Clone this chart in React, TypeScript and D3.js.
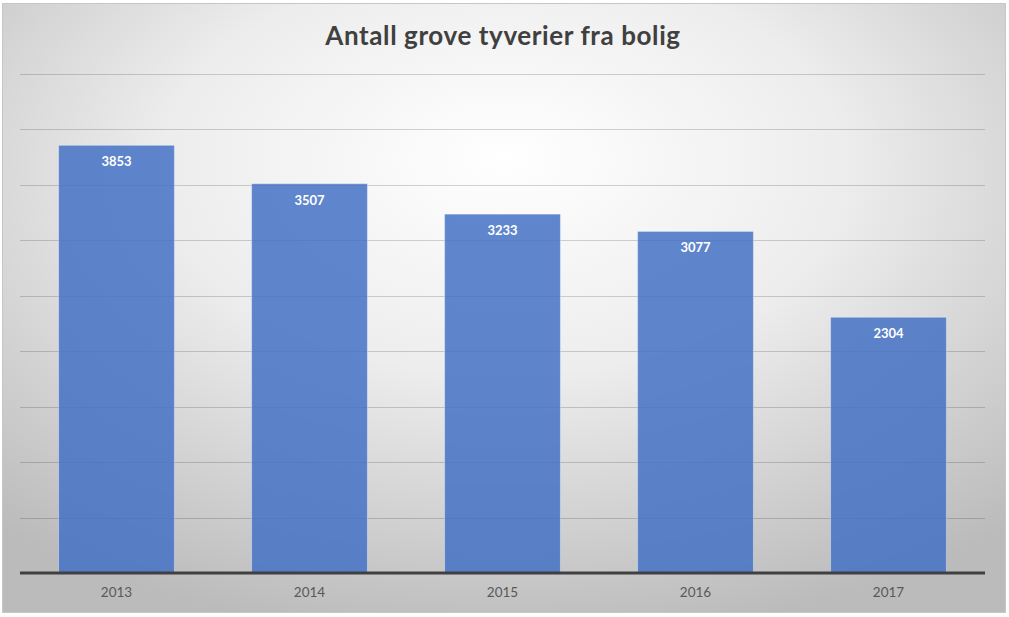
import React from "react";
import * as d3 from "d3";

const categories = ["2013", "2014", "2015", "2016", "2017"];
const values = [3853, 3507, 3233, 3077, 2304];
const gridTicks = [500, 1000, 1500, 2000, 2500, 3000, 3500, 4000, 4500];
const title = "Antall grove tyverier fra bolig";

export default function App() {
  const W = 1009, H = 617;
  const plotLeft = 20, plotRight = 985, plotTop = 73.5, plotBottom = 573;
  const x = d3.scaleBand<string>().domain(categories).range([plotLeft, plotRight]).paddingInner(0.4).paddingOuter(0.2);
  const y = d3.scaleLinear().domain([0, 4500]).range([plotBottom, plotTop]);
  const font = "Lato, 'Open Sans', 'DejaVu Sans', sans-serif";
  return (
    <svg width={W} height={H} style={{ position: "absolute", left: 0, top: 0 }}>
      <defs>
        <radialGradient id="bg" cx="50%" cy="30%" r="75%" fx="50%" fy="25%">
          <stop offset="0%" stopColor="#ffffff" />
          <stop offset="45%" stopColor="#ededed" />
          <stop offset="100%" stopColor="#bbbbbb" />
        </radialGradient>
      </defs>
      <rect x={2.5} y={3.5} width={1003} height={609} fill="url(#bg)" stroke="#c6c6c6" strokeWidth={1} />
      <text x={503} y={45} textAnchor="middle" fontFamily={font} fontWeight={700} fontSize={26} letterSpacing={0.6} fill="#404040">{title}</text>
      {gridTicks.map((t) => (
        <line key={t} x1={plotLeft} x2={plotRight} y1={Math.round(y(t)) + 0.5} y2={Math.round(y(t)) + 0.5} stroke="#000" strokeOpacity={0.17} strokeWidth={1} />
      ))}
      {categories.map((c, i) => (
        <g key={c}>
          <rect x={x(c)} y={y(values[i])} width={x.bandwidth()} height={plotBottom - y(values[i])} fill="#4472C4" fillOpacity={0.85} stroke="#ffffff" strokeOpacity={0.35} strokeWidth={1} />
          <text x={(x(c) as number) + x.bandwidth() / 2} y={y(values[i]) + 21} textAnchor="middle" fontFamily={font} fontWeight={700} fontSize={13} fill="#ffffff">{values[i]}</text>
          <text x={(x(c) as number) + x.bandwidth() / 2} y={597} textAnchor="middle" fontFamily={font} fontSize={13.5} fill="#595959">{c}</text>
        </g>
      ))}
      <line x1={plotLeft} x2={plotRight} y1={plotBottom} y2={plotBottom} stroke="#404040" strokeWidth={3} />
    </svg>
  );
}
